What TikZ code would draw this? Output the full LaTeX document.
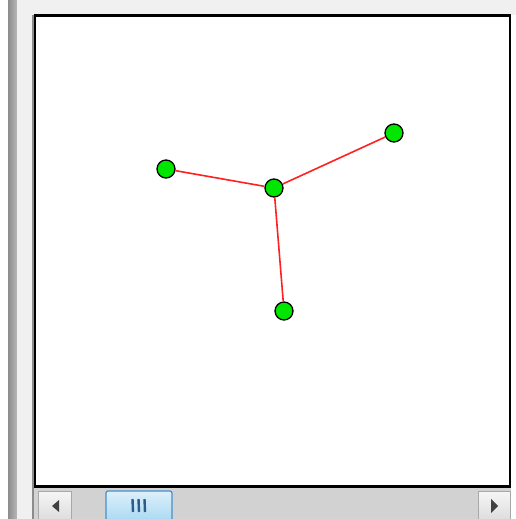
\documentclass[tikz,border=0pt]{standalone}
\usetikzlibrary{calc}
\definecolor{panelgray}{HTML}{F0F0F0}
\definecolor{stripdark}{HTML}{8C8C8C}
\definecolor{striplight}{HTML}{B8B8B8}
\definecolor{scrollbg}{HTML}{D2D2D2}
\definecolor{btnborder}{HTML}{A8A8A8}
\definecolor{btntop}{HTML}{F6F6F6}
\definecolor{btnbot}{HTML}{DCDCDC}
\definecolor{thumbborder}{HTML}{4A8FC8}
\definecolor{thumbtop}{HTML}{DDF0FB}
\definecolor{thumbbot}{HTML}{A9D9F3}
\definecolor{gripblue}{HTML}{2E5C8A}
\definecolor{nodegreen}{HTML}{00E600}
\definecolor{edgered}{HTML}{FF2020}
\tikzset{
  vertex/.style={circle,draw=black,line width=1.3pt,fill=nodegreen,minimum size=18pt,inner sep=0pt},
  edge/.style={draw=edgered,line width=1.6pt},
  btn/.style={draw=btnborder,line width=1pt,top color=btntop,bottom color=btnbot},
  arrowglyph/.style={fill=black!75,draw=none}
}
\begin{document}
\begin{tikzpicture}[x=1pt,y=-1pt]
\useasboundingbox (0,0) rectangle (516,519);
% window backgrounds
\fill[white] (0,0) rectangle (516,519);
\fill[panelgray] (17,0) rectangle (516,15);
\fill[left color=stripdark,right color=striplight] (8,0) rectangle (17,519);
\fill[panelgray] (17,0) rectangle (32,519);
\fill[black!45] (32,15) rectangle (34,519);
% scrollbar area
\fill[scrollbg] (34,487) rectangle (511,519);
% canvas
\fill[white] (35,16) rectangle (510,486);
\draw[black,line width=2.2pt] (35,15.5) rectangle (510,486.5);
% scroll buttons
\node[btn,minimum width=33pt,minimum height=30pt,inner sep=0pt] (lbtn) at (55,506) {};
\node[btn,minimum width=32pt,minimum height=30pt,inner sep=0pt] (rbtn) at (494,506) {};
\fill[arrowglyph] ($(lbtn.center)+(4,-6)$) -- ($(lbtn.center)+(-3,0)$) -- ($(lbtn.center)+(4,6)$) -- cycle;
\fill[arrowglyph] ($(rbtn.center)+(-3,-7)$) -- ($(rbtn.center)+(4,0)$) -- ($(rbtn.center)+(-3,7)$) -- cycle;
% thumb
\node[draw=thumbborder,line width=1.2pt,rounded corners=2pt,top color=thumbtop,bottom color=thumbbot,minimum width=66pt,minimum height=30pt,inner sep=0pt] (thumb) at (139,506) {};
\foreach \dx in {-6,0,6}
  \draw[gripblue,line width=2.4pt] ($(thumb.center)+(\dx-0.5,-7)$) -- ($(thumb.center)+(\dx,6)$);
% graph
\node[vertex] (c) at (274,188) {};
\node[vertex] (a) at (166,169) {};
\node[vertex] (b) at (394,133) {};
\node[vertex] (d) at (284,311) {};
\draw[edge] (a) -- (c);
\draw[edge] (c) -- (b);
\draw[edge] (c) -- (d);
\end{tikzpicture}
\end{document}
